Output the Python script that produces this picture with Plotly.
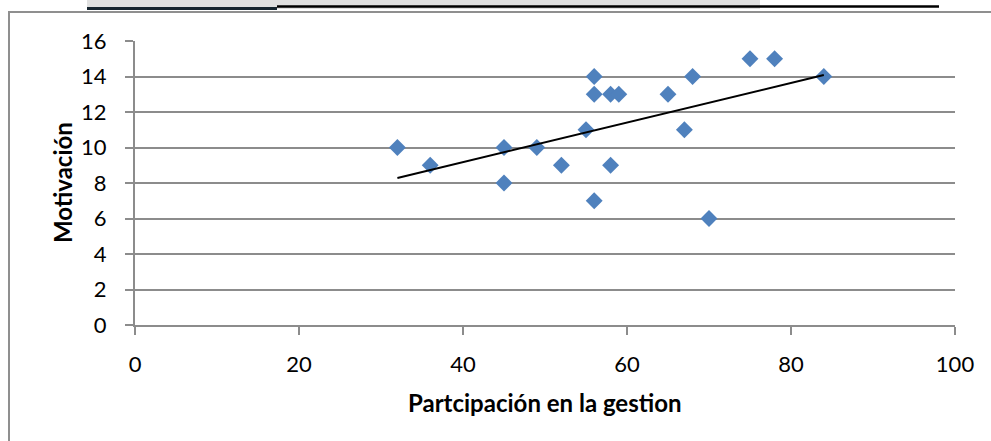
import plotly.graph_objects as go

# Data
participacion = [32, 36, 45, 45, 49, 52, 55, 56, 56, 56, 58, 58, 59, 65, 67, 68, 70, 75, 78, 84]
motivacion = [10, 9, 10, 8, 10, 9, 11, 14, 13, 7, 13, 9, 13, 13, 11, 14, 6, 15, 15, 14]
trend_x = [32, 84]
trend_y = [8.28, 14.08]
x_ticks = [0, 20, 40, 60, 80, 100]
y_ticks = [0, 2, 4, 6, 8, 10, 12, 14, 16]
x_title = "Partcipación en la gestion"
y_title = "Motivación"

W, H = 991, 441
L, R, T, B = 135, 955, 41, 325  # plot area in pixels


def px(x):
    return (x - L) / (R - L)


def py(y):
    return (B - y) / (B - T)


FONT = "Lato, 'Open Sans', sans-serif"
GRID = "#8c8c8c"

fig = go.Figure()
fig.add_trace(go.Scatter(
    x=participacion, y=motivacion, mode="markers",
    marker=dict(symbol="diamond", size=13, color="#4F81BD", line=dict(width=0)),
    cliponaxis=False, showlegend=False, hoverinfo="x+y"))
fig.add_trace(go.Scatter(
    x=trend_x, y=trend_y, mode="lines",
    line=dict(color="black", width=2), showlegend=False, hoverinfo="skip"))

shapes = [
    # outer chart border (left & top visible)
    dict(type="rect", xref="paper", yref="paper",
         x0=px(9), x1=px(1010), y0=py(470), y1=py(12),
         line=dict(color="#8f8f8f", width=2), fillcolor="rgba(0,0,0,0)", layer="below"),
    # top decorations
    dict(type="rect", xref="paper", yref="paper",
         x0=px(87), x1=px(760), y0=py(9), y1=py(-2),
         line=dict(width=0), fillcolor="#e0e0e0", layer="below"),
    dict(type="rect", xref="paper", yref="paper",
         x0=px(87), x1=px(277), y0=py(10), y1=py(7),
         line=dict(width=0), fillcolor="#17252f", layer="below"),
    dict(type="rect", xref="paper", yref="paper",
         x0=px(277), x1=px(939), y0=py(7.7), y1=py(5.3),
         line=dict(width=0), fillcolor="#000000", layer="below"),
]

fig.update_layout(
    width=W, height=H,
    margin=dict(l=L, r=W - R, t=T, b=H - B, pad=0),
    paper_bgcolor="white", plot_bgcolor="white",
    font=dict(family=FONT, size=22, color="black"),
    shapes=shapes,
    xaxis=dict(range=[0, 100], tickvals=x_ticks, showgrid=False, zeroline=False,
               showline=True, linecolor=GRID, linewidth=2,
               ticks="outside", ticklen=8, tickcolor=GRID, tickwidth=1.5,
               ticklabelstandoff=11,
               tickfont=dict(family=FONT, size=22, color="black")),
    yaxis=dict(range=[0, 16], tickvals=y_ticks, showgrid=True, gridcolor=GRID, gridwidth=1.5,
               zeroline=False, showline=True, linecolor=GRID, linewidth=2,
               ticks="outside", ticklen=8, tickcolor=GRID, tickwidth=1.5,
               ticklabelstandoff=14,
               tickfont=dict(family=FONT, size=22, color="black")),
    annotations=[
        dict(text=f"<b>{x_title}</b>", xref="paper", yref="paper",
             x=px(545), y=py(402), xanchor="center", yanchor="middle",
             showarrow=False, font=dict(family=FONT, size=24, color="black")),
        dict(text=f"<b>{y_title}</b>", xref="paper", yref="paper",
             x=px(62), y=py(183), xanchor="center", yanchor="middle", textangle=-90,
             showarrow=False, font=dict(family=FONT, size=24, color="black")),
    ],
)

fig.write_html("out.html")
